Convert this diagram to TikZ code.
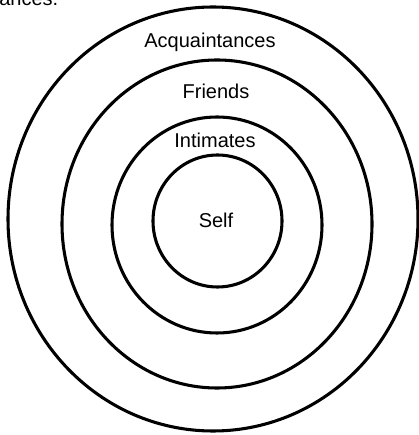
\documentclass[tikz,border=0pt]{standalone}
\usepackage{fontspec}
\setmainfont{Liberation Sans}
\begin{document}
\begin{tikzpicture}[x=0.75pt, y=0.75pt,
  ring/.style={line width=2.3pt},
  lbl/.style={font=\fontsize{15}{18}\selectfont, anchor=base, inner sep=0pt}]
  \useasboundingbox (0,0) rectangle (418,435);
  % end of the line of text above, cut off by the page
  \node[lbl, anchor=base west] (tail) at (-1,429) {ances.};
  % rings, outside in
  \draw[ring] (213,216) ellipse [x radius=205, y radius=212];
  \draw[ring] (217,211) ellipse [x radius=155, y radius=164];
  \draw[ring] (217,210) ellipse [x radius=105, y radius=108];
  \draw[ring] (217.5,214) ellipse [x radius=64.5, y radius=66];
  % labels
  \node[lbl] (acq) at (210,387) {Acquaintances};
  \node[lbl] (friends) at (216,336) {Friends};
  \node[lbl] (intimates) at (215,287) {Intimates};
  \node[lbl] (self) at (216,207) {Self};
\end{tikzpicture}
\end{document}
